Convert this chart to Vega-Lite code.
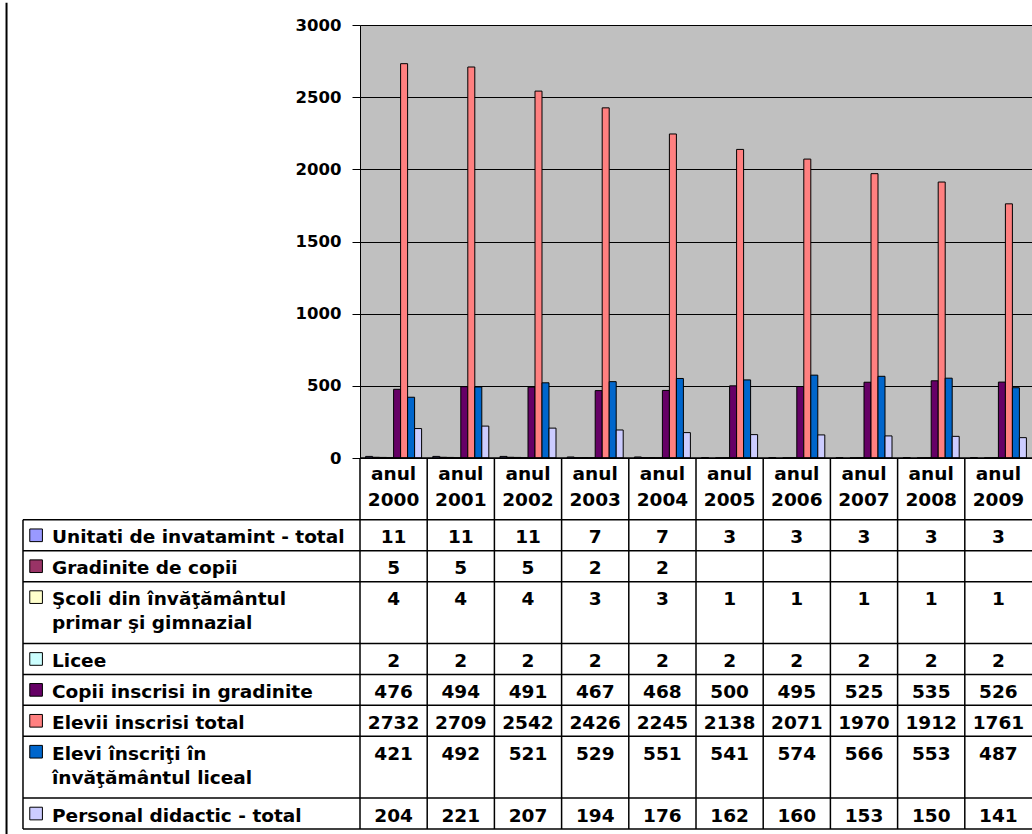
{
  "$schema": "https://vega.github.io/schema/vega-lite/v6.json",
  "padding": 0,
  "bounds": "flush",
  "spacing": 0,
  "config": {"view": {"stroke": null}, "font": "DejaVu Sans"},
  "datasets": {
    "one": [{"k": 1}],
    "years": [
      {"year": "anul 2000"}, {"year": "anul 2001"}, {"year": "anul 2002"}, {"year": "anul 2003"}, {"year": "anul 2004"},
      {"year": "anul 2005"}, {"year": "anul 2006"}, {"year": "anul 2007"}, {"year": "anul 2008"}, {"year": "anul 2009"}
    ],
    "series": [
      {"series": "Unitati de invatamint - total"},
      {"series": "Gradinite de copii"},
      {"series": "Şcoli din învăţământul\nprimar şi gimnazial"},
      {"series": "Licee"},
      {"series": "Copii inscrisi in gradinite"},
      {"series": "Elevii inscrisi total"},
      {"series": "Elevi înscriţi în\nînvăţământul liceal"},
      {"series": "Personal didactic - total"}
    ],
    "vals": [
      {"series": "Unitati de invatamint - total", "year": "anul 2000", "value": 11},
      {"series": "Unitati de invatamint - total", "year": "anul 2001", "value": 11},
      {"series": "Unitati de invatamint - total", "year": "anul 2002", "value": 11},
      {"series": "Unitati de invatamint - total", "year": "anul 2003", "value": 7},
      {"series": "Unitati de invatamint - total", "year": "anul 2004", "value": 7},
      {"series": "Unitati de invatamint - total", "year": "anul 2005", "value": 3},
      {"series": "Unitati de invatamint - total", "year": "anul 2006", "value": 3},
      {"series": "Unitati de invatamint - total", "year": "anul 2007", "value": 3},
      {"series": "Unitati de invatamint - total", "year": "anul 2008", "value": 3},
      {"series": "Unitati de invatamint - total", "year": "anul 2009", "value": 3},
      {"series": "Gradinite de copii", "year": "anul 2000", "value": 5},
      {"series": "Gradinite de copii", "year": "anul 2001", "value": 5},
      {"series": "Gradinite de copii", "year": "anul 2002", "value": 5},
      {"series": "Gradinite de copii", "year": "anul 2003", "value": 2},
      {"series": "Gradinite de copii", "year": "anul 2004", "value": 2},
      {"series": "Şcoli din învăţământul\nprimar şi gimnazial", "year": "anul 2000", "value": 4},
      {"series": "Şcoli din învăţământul\nprimar şi gimnazial", "year": "anul 2001", "value": 4},
      {"series": "Şcoli din învăţământul\nprimar şi gimnazial", "year": "anul 2002", "value": 4},
      {"series": "Şcoli din învăţământul\nprimar şi gimnazial", "year": "anul 2003", "value": 3},
      {"series": "Şcoli din învăţământul\nprimar şi gimnazial", "year": "anul 2004", "value": 3},
      {"series": "Şcoli din învăţământul\nprimar şi gimnazial", "year": "anul 2005", "value": 1},
      {"series": "Şcoli din învăţământul\nprimar şi gimnazial", "year": "anul 2006", "value": 1},
      {"series": "Şcoli din învăţământul\nprimar şi gimnazial", "year": "anul 2007", "value": 1},
      {"series": "Şcoli din învăţământul\nprimar şi gimnazial", "year": "anul 2008", "value": 1},
      {"series": "Şcoli din învăţământul\nprimar şi gimnazial", "year": "anul 2009", "value": 1},
      {"series": "Licee", "year": "anul 2000", "value": 2},
      {"series": "Licee", "year": "anul 2001", "value": 2},
      {"series": "Licee", "year": "anul 2002", "value": 2},
      {"series": "Licee", "year": "anul 2003", "value": 2},
      {"series": "Licee", "year": "anul 2004", "value": 2},
      {"series": "Licee", "year": "anul 2005", "value": 2},
      {"series": "Licee", "year": "anul 2006", "value": 2},
      {"series": "Licee", "year": "anul 2007", "value": 2},
      {"series": "Licee", "year": "anul 2008", "value": 2},
      {"series": "Licee", "year": "anul 2009", "value": 2},
      {"series": "Copii inscrisi in gradinite", "year": "anul 2000", "value": 476},
      {"series": "Copii inscrisi in gradinite", "year": "anul 2001", "value": 494},
      {"series": "Copii inscrisi in gradinite", "year": "anul 2002", "value": 491},
      {"series": "Copii inscrisi in gradinite", "year": "anul 2003", "value": 467},
      {"series": "Copii inscrisi in gradinite", "year": "anul 2004", "value": 468},
      {"series": "Copii inscrisi in gradinite", "year": "anul 2005", "value": 500},
      {"series": "Copii inscrisi in gradinite", "year": "anul 2006", "value": 495},
      {"series": "Copii inscrisi in gradinite", "year": "anul 2007", "value": 525},
      {"series": "Copii inscrisi in gradinite", "year": "anul 2008", "value": 535},
      {"series": "Copii inscrisi in gradinite", "year": "anul 2009", "value": 526},
      {"series": "Elevii inscrisi total", "year": "anul 2000", "value": 2732},
      {"series": "Elevii inscrisi total", "year": "anul 2001", "value": 2709},
      {"series": "Elevii inscrisi total", "year": "anul 2002", "value": 2542},
      {"series": "Elevii inscrisi total", "year": "anul 2003", "value": 2426},
      {"series": "Elevii inscrisi total", "year": "anul 2004", "value": 2245},
      {"series": "Elevii inscrisi total", "year": "anul 2005", "value": 2138},
      {"series": "Elevii inscrisi total", "year": "anul 2006", "value": 2071},
      {"series": "Elevii inscrisi total", "year": "anul 2007", "value": 1970},
      {"series": "Elevii inscrisi total", "year": "anul 2008", "value": 1912},
      {"series": "Elevii inscrisi total", "year": "anul 2009", "value": 1761},
      {"series": "Elevi înscriţi în\nînvăţământul liceal", "year": "anul 2000", "value": 421},
      {"series": "Elevi înscriţi în\nînvăţământul liceal", "year": "anul 2001", "value": 492},
      {"series": "Elevi înscriţi în\nînvăţământul liceal", "year": "anul 2002", "value": 521},
      {"series": "Elevi înscriţi în\nînvăţământul liceal", "year": "anul 2003", "value": 529},
      {"series": "Elevi înscriţi în\nînvăţământul liceal", "year": "anul 2004", "value": 551},
      {"series": "Elevi înscriţi în\nînvăţământul liceal", "year": "anul 2005", "value": 541},
      {"series": "Elevi înscriţi în\nînvăţământul liceal", "year": "anul 2006", "value": 574},
      {"series": "Elevi înscriţi în\nînvăţământul liceal", "year": "anul 2007", "value": 566},
      {"series": "Elevi înscriţi în\nînvăţământul liceal", "year": "anul 2008", "value": 553},
      {"series": "Elevi înscriţi în\nînvăţământul liceal", "year": "anul 2009", "value": 487},
      {"series": "Personal didactic - total", "year": "anul 2000", "value": 204},
      {"series": "Personal didactic - total", "year": "anul 2001", "value": 221},
      {"series": "Personal didactic - total", "year": "anul 2002", "value": 207},
      {"series": "Personal didactic - total", "year": "anul 2003", "value": 194},
      {"series": "Personal didactic - total", "year": "anul 2004", "value": 176},
      {"series": "Personal didactic - total", "year": "anul 2005", "value": 162},
      {"series": "Personal didactic - total", "year": "anul 2006", "value": 160},
      {"series": "Personal didactic - total", "year": "anul 2007", "value": 153},
      {"series": "Personal didactic - total", "year": "anul 2008", "value": 150},
      {"series": "Personal didactic - total", "year": "anul 2009", "value": 141}
    ]
  },
  "vconcat": [
    {
      "width": 672,
      "height": 433,
      "view": {"fill": "#C0C0C0", "stroke": null},
      "layer": [
        {
          "data": {"name": "vals"},
          "mark": {"type": "bar", "stroke": "black", "strokeWidth": 1},
          "encoding": {
            "x": {"field": "year", "type": "nominal", "axis": null,
                  "scale": {"domain": ["anul 2000","anul 2001","anul 2002","anul 2003","anul 2004","anul 2005","anul 2006","anul 2007","anul 2008","anul 2009"], "paddingInner": 0, "paddingOuter": 0}},
            "xOffset": {"field": "series", "type": "nominal",
                  "scale": {"domain": ["Unitati de invatamint - total","Gradinite de copii","Şcoli din învăţământul\nprimar şi gimnazial","Licee","Copii inscrisi in gradinite","Elevii inscrisi total","Elevi înscriţi în\nînvăţământul liceal","Personal didactic - total"], "paddingInner": 0, "paddingOuter": 0.8}},
            "y": {"field": "value", "type": "quantitative",
                  "scale": {"domain": [0, 3000], "nice": false},
                  "axis": {"values": [0, 500, 1000, 1500, 2000, 2500, 3000], "format": "d", "title": null, "grid": true, "gridColor": "black", "gridOpacity": 1, "gridWidth": 1,
                           "domainColor": "black", "domainWidth": 1, "tickColor": "black", "tickSize": 8, "tickWidth": 1,
                           "labelFont": "DejaVu Sans", "labelFontWeight": "bold", "labelFontSize": 16.5, "labelColor": "black", "labelPadding": 11, "labelFlush": false, "labelOverlap": false}},
            "color": {"field": "series", "type": "nominal", "legend": null,
                  "scale": {"domain": ["Unitati de invatamint - total","Gradinite de copii","Şcoli din învăţământul\nprimar şi gimnazial","Licee","Copii inscrisi in gradinite","Elevii inscrisi total","Elevi înscriţi în\nînvăţământul liceal","Personal didactic - total"],
                            "range": ["#9999FF","#993366","#FFFFCC","#CCFFFF","#660066","#FF8080","#0066CC","#CCCCFF"]}}
          }
        },
        {
          "data": {"name": "one"},
          "mark": {"type": "rule", "color": "black", "strokeWidth": 2},
          "encoding": {
            "x": {"datum": "anul 2000", "type": "nominal", "bandPosition": -5.26},
            "y": {"datum": 3155, "type": "quantitative", "scale": {"domain": [0, 3000], "nice": false}},
            "y2": {"datum": 0}
          }
        },
        {
          "data": {"name": "one"},
          "mark": {"type": "rect", "opacity": 0},
          "encoding": {
            "x": {"datum": "anul 2000", "type": "nominal", "bandPosition": -5.357},
            "x2": {"datum": "anul 2000", "bandPosition": -5.3},
            "y": {"datum": 3166.3, "type": "quantitative", "scale": {"domain": [0, 3000], "nice": false}},
            "y2": {"datum": 3100}
          }
        }
      ]
    },
    {
      "width": 672,
      "height": 371,
      "view": {"stroke": null},
      "encoding": {
        "x": {"field": "year", "type": "nominal", "axis": null,
              "scale": {"domain": ["anul 2000","anul 2001","anul 2002","anul 2003","anul 2004","anul 2005","anul 2006","anul 2007","anul 2008","anul 2009"], "paddingInner": 0, "paddingOuter": 0}},
        "y": {"field": "series", "type": "nominal", "axis": null,
              "scale": {"domain": ["_h1","_h2","Unitati de invatamint - total","Gradinite de copii","Şcoli din învăţământul\nprimar şi gimnazial","_s3b","Licee","Copii inscrisi in gradinite","Elevii inscrisi total","Elevi înscriţi în\nînvăţământul liceal","_s7b","Personal didactic - total"], "paddingInner": 0, "paddingOuter": 0}}
      },
      "layer": [
        {
          "data": {"name": "one"},
          "mark": {"type": "rule", "color": "black", "strokeWidth": 2},
          "encoding": {
            "x": {"datum": "anul 2000", "type": "nominal", "bandPosition": -5.26},
            "y": {"datum": "_h1", "type": "nominal", "bandPosition": 0},
            "y2": {"datum": "Personal didactic - total", "bandPosition": 1.25}
          }
        },
        {
          "data": {"name": "series"},
          "mark": {"type": "rule", "color": "black", "strokeWidth": 1.5},
          "encoding": {
            "x": {"datum": "anul 2000", "type": "nominal", "bandPosition": -5.015},
            "x2": {"datum": "anul 2009", "bandPosition": 1},
            "y": {"field": "series", "type": "nominal", "bandPosition": 0}
          }
        },
        {
          "data": {"name": "one"},
          "mark": {"type": "rule", "color": "black", "strokeWidth": 1.5},
          "encoding": {
            "x": {"datum": "anul 2000", "type": "nominal", "bandPosition": -5.015},
            "x2": {"datum": "anul 2009", "bandPosition": 1},
            "y": {"datum": "Personal didactic - total", "type": "nominal", "bandPosition": 1}
          }
        },
        {
          "data": {"name": "one"},
          "mark": {"type": "rule", "color": "black", "strokeWidth": 1.5},
          "encoding": {
            "x": {"datum": "anul 2000", "type": "nominal", "bandPosition": 0},
            "x2": {"datum": "anul 2009", "bandPosition": 1},
            "y": {"datum": "_h1", "type": "nominal", "bandPosition": 0}
          }
        },
        {
          "data": {"name": "years"},
          "mark": {"type": "rule", "color": "black", "strokeWidth": 1.5},
          "encoding": {
            "x": {"field": "year", "type": "nominal", "bandPosition": 0},
            "y": {"datum": "_h1", "type": "nominal", "bandPosition": 0},
            "y2": {"datum": "Personal didactic - total", "bandPosition": 1}
          }
        },
        {
          "data": {"name": "one"},
          "mark": {"type": "rule", "color": "black", "strokeWidth": 1.5},
          "encoding": {
            "x": {"datum": "anul 2000", "type": "nominal", "bandPosition": -5.015},
            "y": {"datum": "Unitati de invatamint - total", "type": "nominal", "bandPosition": 0},
            "y2": {"datum": "Personal didactic - total", "bandPosition": 1}
          }
        },
        {
          "data": {"name": "years"},
          "mark": {"type": "text", "font": "DejaVu Sans", "fontWeight": "bold", "fontSize": 18.5, "color": "black", "align": "center", "baseline": "middle", "lineBreak": " ", "lineHeight": 26, "dy": 1},
          "encoding": {
            "x": {"field": "year", "type": "nominal", "bandPosition": 0.5},
            "y": {"datum": "_h1", "type": "nominal", "bandPosition": 0.5},
            "text": {"field": "year"}
          }
        },
        {
          "data": {"name": "vals"},
          "mark": {"type": "text", "font": "DejaVu Sans", "fontWeight": "bold", "fontSize": 18.5, "color": "black", "align": "center", "baseline": "middle", "dy": 2},
          "encoding": {
            "x": {"field": "year", "type": "nominal", "bandPosition": 0.5},
            "y": {"field": "series", "type": "nominal", "bandPosition": 0.5},
            "text": {"field": "value", "type": "quantitative", "format": "d"}
          }
        },
        {
          "data": {"name": "series"},
          "mark": {"type": "point", "shape": "square", "filled": true, "size": 160, "stroke": "black", "strokeWidth": 1, "opacity": 1},
          "encoding": {
            "x": {"datum": "anul 2000", "type": "nominal", "bandPosition": -4.82},
            "y": {"field": "series", "type": "nominal", "bandPosition": 0.5},
            "color": {"field": "series", "type": "nominal", "legend": null,
                  "scale": {"domain": ["Unitati de invatamint - total","Gradinite de copii","Şcoli din învăţământul\nprimar şi gimnazial","Licee","Copii inscrisi in gradinite","Elevii inscrisi total","Elevi înscriţi în\nînvăţământul liceal","Personal didactic - total"],
                            "range": ["#9999FF","#993366","#FFFFCC","#CCFFFF","#660066","#FF8080","#0066CC","#CCCCFF"]}}
          }
        },
        {
          "data": {"name": "series"},
          "mark": {"type": "text", "font": "DejaVu Sans", "fontWeight": "bold", "fontSize": 18.5, "color": "black", "align": "left", "baseline": "middle", "lineBreak": "\n", "lineHeight": 24, "dy": 2},
          "encoding": {
            "x": {"datum": "anul 2000", "type": "nominal", "bandPosition": -4.583},
            "y": {"field": "series", "type": "nominal", "bandPosition": 0.5},
            "text": {"field": "series"}
          }
        }
      ]
    }
  ]
}
